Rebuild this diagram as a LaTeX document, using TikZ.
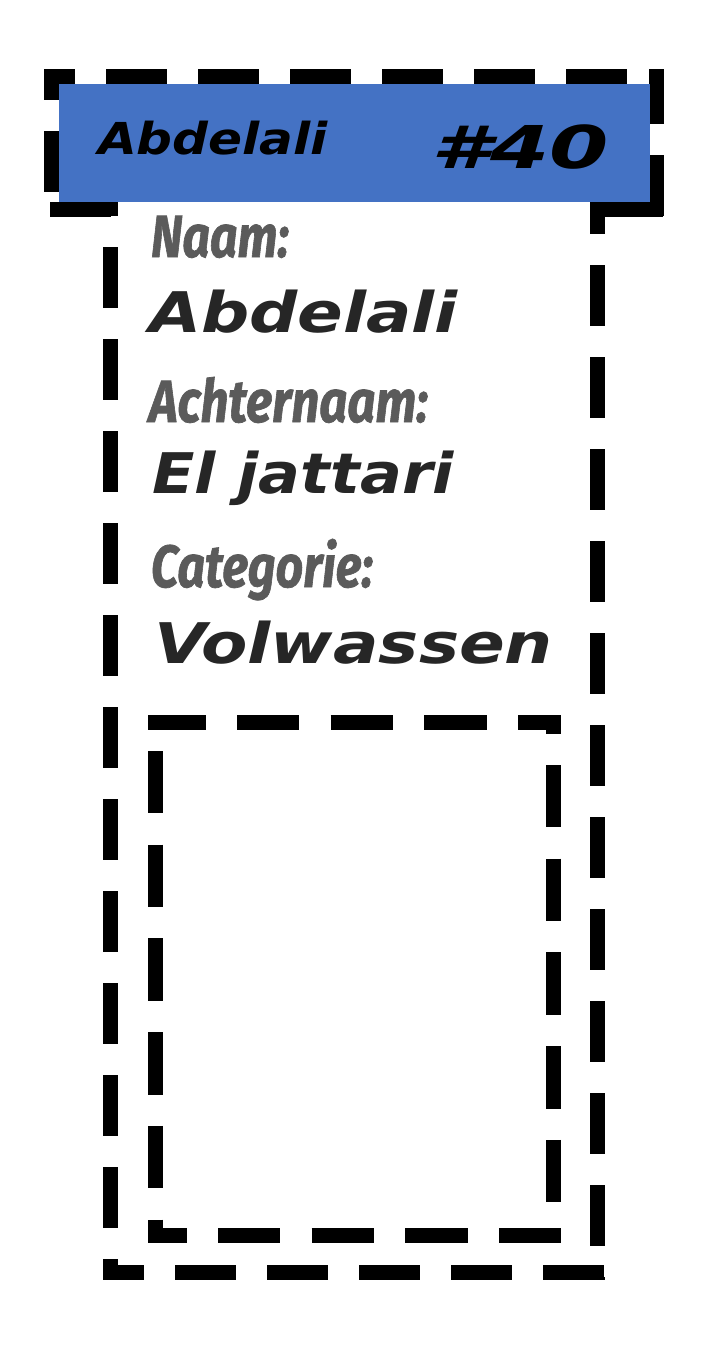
\documentclass[tikz,border=0pt]{standalone}
\usepackage{fontspec}
\usepackage{graphicx}
\newfontfamily\valfont{DejaVu Sans}
\newfontfamily\labfont{Fira Sans}[BoldItalicFeatures={FakeBold=1.2}]
\definecolor{hdrblue}{HTML}{4472C4}
\definecolor{labgray}{HTML}{5B5B5B}
\definecolor{valdark}{HTML}{262626}
\newcommand\fitw[2]{\resizebox{#1}{\height}{#2}}
\tikzset{
  hdash/.style={line width=15pt, dash pattern=on 61.33pt off 30.67pt},
  idash/.style={line width=15pt, dash pattern=on 62.47pt off 31.23pt},
  txt/.style={inner sep=0pt, outer sep=0pt, anchor=base west},
  hdrtxt/.style={txt, text=black, font=\valfont\bfseries\itshape\fontsize{44pt}{50pt}\selectfont},
  numtxt/.style={txt, text=black, font=\valfont\bfseries\itshape\fontsize{59pt}{64pt}\selectfont},
  labtxt/.style={txt, text=labgray, font=\labfont\bfseries\itshape\fontsize{59.5pt}{64pt}\selectfont},
  valtxt/.style={txt, text=valdark, font=\valfont\bfseries\itshape\fontsize{56pt}{60pt}\selectfont},
}
\begin{document}
\begin{tikzpicture}[x=1pt,y=-1pt]
\useasboundingbox (0,0) rectangle (709,1358);
% header frame
\draw[hdash, dash phase=30pt] (44,76.5) -- (664,76.5);
\draw[hdash, dash phase=30pt] (51.5,69) -- (51.5,217);
\draw[hdash, dash phase=6pt] (656.5,69) -- (656.5,217);
\draw[hdash, dash phase=86pt] (44,209.5) -- (664,209.5);
% body frame
\fill[white] (110.5,150) rectangle (597.5,1272.5);
\draw[hdash, dash phase=87pt] (110.5,150) -- (110.5,1280);
\draw[hdash, dash phase=69pt] (597.5,150) -- (597.5,1280);
\draw[hdash, dash phase=20pt] (103,1272.5) -- (605,1272.5);
% photo frame
\draw[idash, dash phase=4.7pt] (148,722.5) -- (561,722.5);
\draw[idash, dash phase=57.7pt] (155.5,715) -- (155.5,1243);
\draw[idash, dash phase=43.7pt] (553.5,715) -- (553.5,1243);
\draw[idash, dash phase=23.7pt] (148,1235.5) -- (561,1235.5);
% header bar
\fill[hdrblue] (59,84) rectangle (650,202);
\node[hdrtxt] (hname) at (98,154) {\fitw{230pt}{Abdelali}};
\node[numtxt] (hnum) at (431,168) {\fitw{178pt}{\#40}};
% fields
\node[labtxt] (lnaam) at (151,257) {\fitw{138pt}{Naam:}};
\node[valtxt] (vnaam) at (149,332) {\fitw{309pt}{Abdelali}};
\node[labtxt] (lachter) at (149,422) {\fitw{279pt}{Achternaam:}};
\node[valtxt] (vachter) at (152,493) {\fitw{302pt}{El jattari}};
\node[labtxt] (lcat) at (151,587) {\fitw{222pt}{Categorie:}};
\node[valtxt] (vcat) at (154,663) {\fitw{399pt}{Volwassen}};
\end{tikzpicture}
\end{document}
